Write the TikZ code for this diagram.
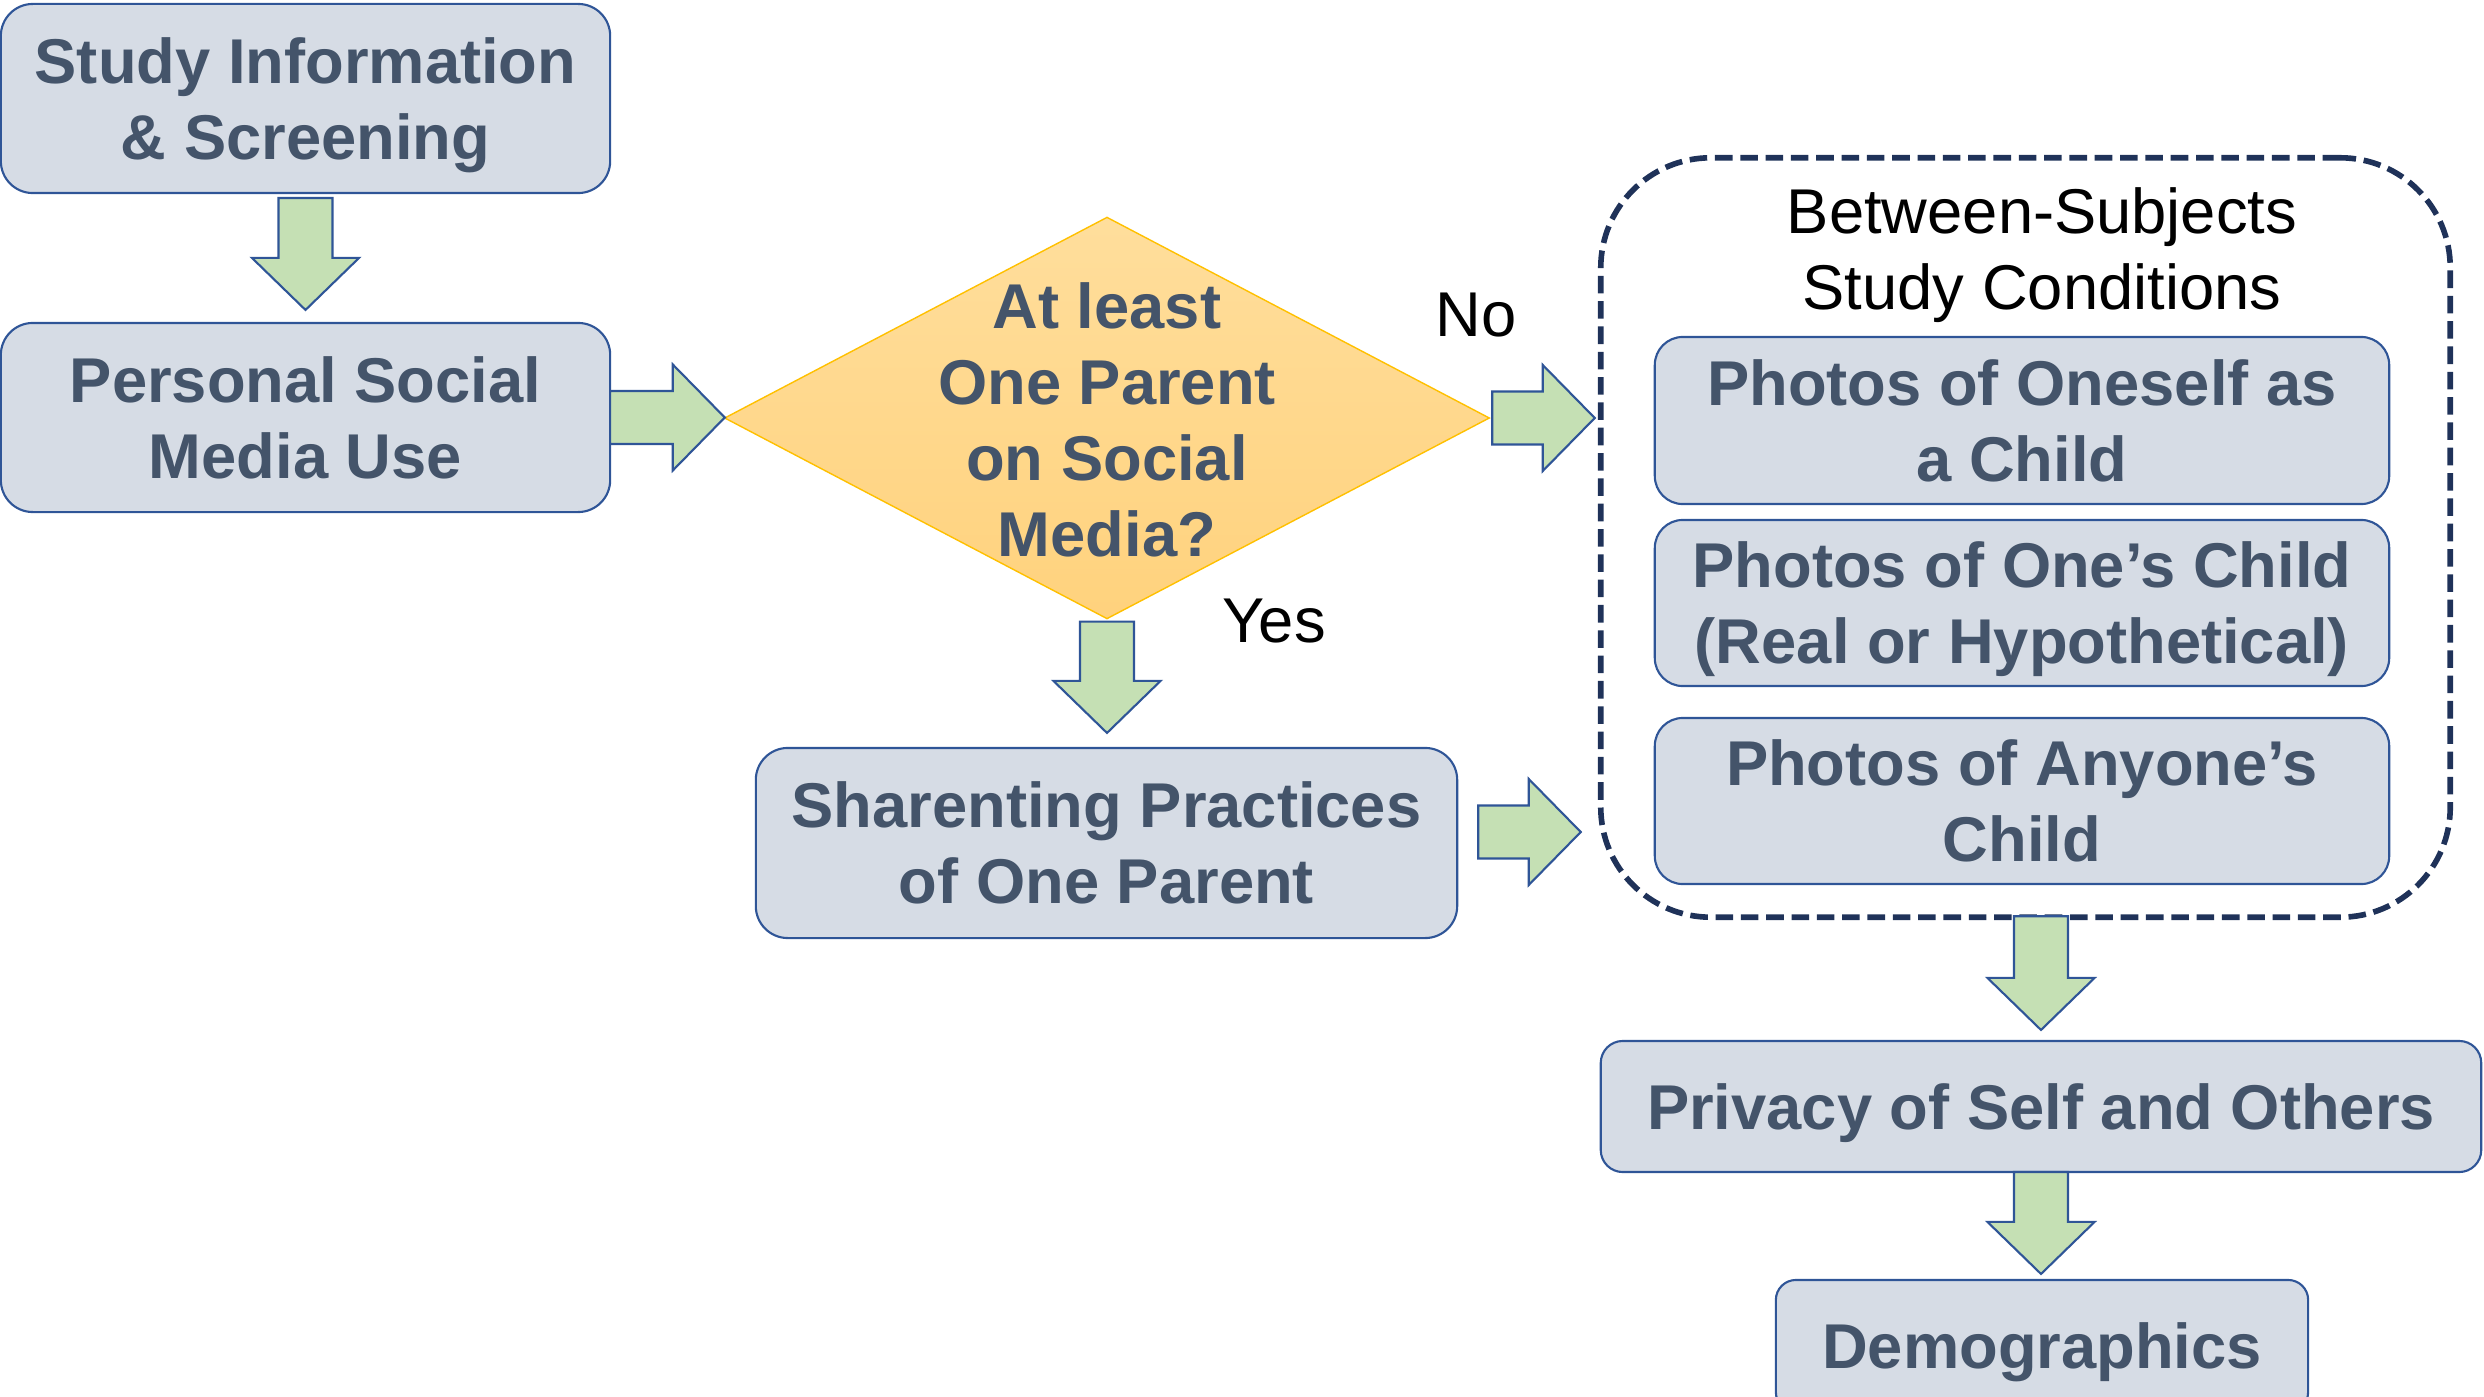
\documentclass[tikz,border=0pt]{standalone}
\usepackage{fontspec}
\setmainfont{Liberation Sans}
\usetikzlibrary{calc,shapes.geometric}

\definecolor{boxfill}{HTML}{D6DCE5}
\definecolor{boxline}{HTML}{2F5597}
\definecolor{boxtext}{HTML}{44546A}
\definecolor{arrowfill}{HTML}{C5E0B4}
\definecolor{decfilltop}{HTML}{FFDE9C}
\definecolor{decfillbot}{HTML}{FFD27D}
\definecolor{decline}{HTML}{FFC000}
\definecolor{groupline}{HTML}{1F3259}

\tikzset{
  stepbox/.style={draw=boxline, line width=0.6pt, fill=boxfill, rectangle,
    rounded corners=0.32cm, inner sep=0pt, outer sep=0pt, align=center,
    text=boxtext, text depth=0pt, font=\fontsize{18pt}{21.6pt}\selectfont\bfseries},
  decision/.style={diamond, draw=decline, line width=0.4pt,
    top color=decfilltop, bottom color=decfillbot, inner sep=0pt, outer sep=0pt},
  boxtitle/.style={align=center, text=boxtext, inner sep=0pt, text depth=0pt,
    font=\fontsize{18pt}{21.6pt}\selectfont\bfseries},
  plainlabel/.style={align=center, text=black, inner sep=0pt, text depth=0pt,
    font=\fontsize{18pt}{21.6pt}\selectfont},
  groupbox/.style={draw=groupline, line width=1.6pt, dash pattern=on 5pt off 2.2pt,
    rounded corners=1.1cm, rectangle, inner sep=0pt, outer sep=0pt},
  blockarrow/.style={draw=boxline, line width=0.6pt, fill=arrowfill, line join=miter}
}

% block arrow pointing right: #1 start of shaft, #2 tip
\newcommand\rightblock[2]{%
  \draw[blockarrow] let \p1=(#1), \p2=(#2) in
    (\x1,\y1+0.265cm) -- (\x2-0.52cm,\y1+0.265cm) -- (\x2-0.52cm,\y1+0.53cm)
    -- (\x2,\y1) -- (\x2-0.52cm,\y1-0.53cm) -- (\x2-0.52cm,\y1-0.265cm)
    -- (\x1,\y1-0.265cm) -- cycle;}
% block arrow pointing down: #1 start of shaft, #2 tip
\newcommand\downblock[2]{%
  \draw[blockarrow] let \p1=(#1), \p2=(#2) in
    (\x1-0.27cm,\y1) -- (\x1-0.27cm,\y2+0.52cm) -- (\x1-0.535cm,\y2+0.52cm)
    -- (\x1,\y2) -- (\x1+0.535cm,\y2+0.52cm) -- (\x1+0.27cm,\y2+0.52cm)
    -- (\x1+0.27cm,\y1) -- cycle;}

\begin{document}
\begin{tikzpicture}[x=0.01cm, y=-0.01cm]
\useasboundingbox (0,0) rectangle (2484,1397);

% left column
\node[stepbox, minimum width=6.09cm, minimum height=1.89cm] (info) at (305.5,98.5)
  {Study Information\\\& Screening};
\node[stepbox, minimum width=6.09cm, minimum height=1.89cm] (social) at (305.5,417.5)
  {Personal Social\\Media Use};

% decision
\node[decision, minimum width=7.64cm, minimum height=4.01cm] (dec) at (1107,418) {};
\node[boxtitle] (dectext) at ($(dec.center)+(0,2)$) {At least\\One Parent\\on Social\\Media?};
\node[plainlabel] (no) at (1476,315) {No};
\node[plainlabel] (yes) at (1274,621) {Yes};

% yes branch
\node[stepbox, minimum width=7.01cm, minimum height=1.90cm] (share) at (1106.5,843)
  {Sharenting Practices\\of One Parent};

% study conditions group
\node[groupbox, minimum width=8.49cm, minimum height=7.59cm] (cont) at (2025.5,537.5) {};
\node[plainlabel] (conttitle) at (2042,249) {Between-Subjects\\Study Conditions};
\node[stepbox, rounded corners=0.28cm, minimum width=7.34cm, minimum height=1.67cm] (phA)
  at (2022,420.5) {Photos of Oneself as\\a Child};
\node[stepbox, rounded corners=0.28cm, minimum width=7.34cm, minimum height=1.66cm] (phB)
  at (2022,603) {Photos of One’s Child\\(Real or Hypothetical)};
\node[stepbox, rounded corners=0.28cm, minimum width=7.34cm, minimum height=1.66cm] (phC)
  at (2022,801) {Photos of Anyone’s\\Child};

% closing steps
\node[stepbox, rounded corners=0.22cm, minimum width=8.80cm, minimum height=1.31cm] (priv)
  at (2041,1106.5) {Privacy of Self and Others};
\node[stepbox, rounded corners=0.2cm, minimum width=5.32cm, minimum height=1.32cm] (demo)
  at (2042,1346) {Demographics};

% arrow end points
\coordinate (a1s) at ($(info.south)+(0,5)$);
\coordinate (a1t) at ($(social.north)+(0,-13)$);
\coordinate (a2s) at (social.east);
\coordinate (a2t) at (dec.west);
\coordinate (a3s) at ($(dec.east)+(3,0)$);
\coordinate (a3t) at ($(dec.east -| cont.west)+(-6,0)$);
\coordinate (a4s) at ($(dec.south)+(0,3)$);
\coordinate (a4t) at ($(share.north)+(0,-15)$);
\coordinate (a5s) at ($(share.east)+(21,-11)$);
\coordinate (a5t) at ($(share.east -| cont.west)+(-20,-11)$);
\coordinate (a6s) at ($(priv.north |- cont.south)+(0,-1)$);
\coordinate (a6t) at ($(priv.north)+(0,-11)$);
\coordinate (a7s) at (priv.south);
\coordinate (a7t) at ($(demo.north)+(0,-6)$);

% block arrows
\downblock{a1s}{a1t}
\rightblock{a2s}{a2t}
\rightblock{a3s}{a3t}
\downblock{a4s}{a4t}
\rightblock{a5s}{a5t}
\downblock{a6s}{a6t}
\downblock{a7s}{a7t}
\end{tikzpicture}
\end{document}
